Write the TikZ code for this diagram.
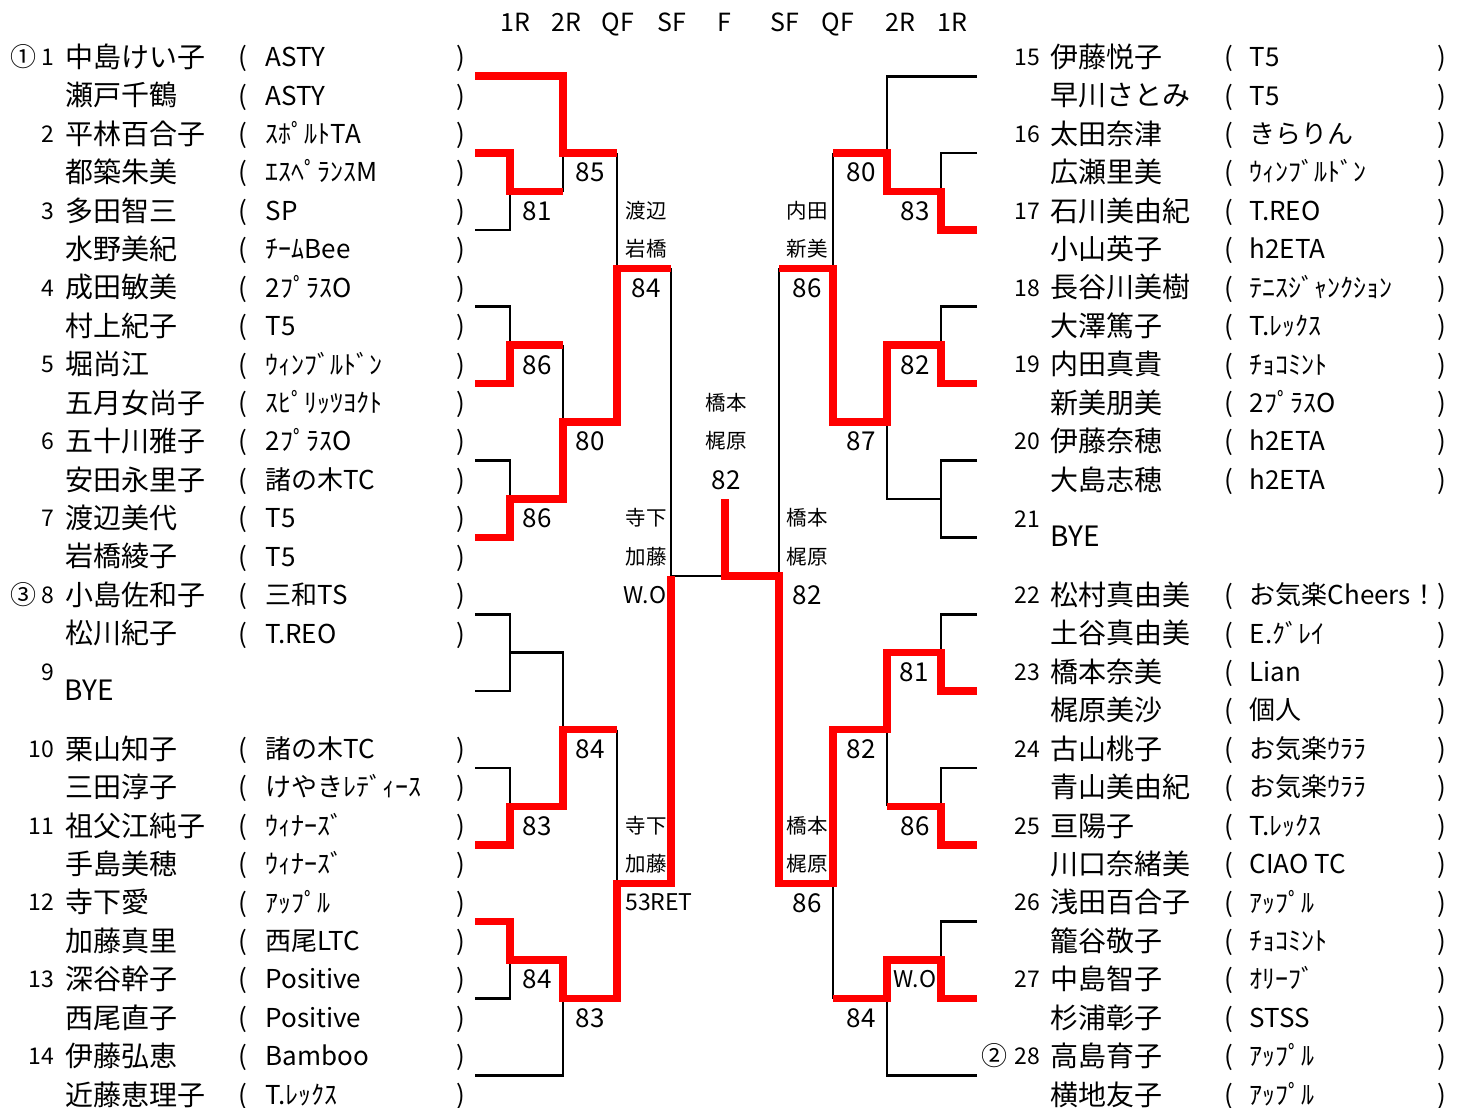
\documentclass[tikz,border=0pt]{standalone}
\usepackage{fontspec}
\setmainfont{Noto Sans CJK JP}
\usepackage{xcolor}

\tikzset{
  bline/.style={line width=2.6pt, black, line join=miter},
  rline/.style={line width=7.5pt, red, line join=miter},
  nametext/.style={font=\fontsize{28}{28}\selectfont, anchor=west, inner sep=0pt, text height=24.4pt, text depth=3.6pt},
  teamtext/.style={font=\fontsize{26}{26}\selectfont, anchor=west, inner sep=0pt, text height=22.6pt, text depth=3.4pt},
  numtext/.style={font=\fontsize{23}{23}\selectfont, anchor=east, inner sep=0pt, text height=20pt, text depth=3pt},
  seedtext/.style={font=\fontsize{26}{26}\selectfont, inner sep=0pt, text height=22.6pt, text depth=3.4pt},
  parentext/.style={font=\fontsize{26}{26}\selectfont, inner sep=0pt, text height=22.6pt, text depth=3.4pt},
  scoretext/.style={font=\fontsize{26}{26}\selectfont, inner sep=0pt, text height=22.6pt, text depth=3.4pt},
  smalltext/.style={font=\fontsize{20.5}{20.5}\selectfont, inner sep=0pt, text height=17.8pt, text depth=2.7pt},
  wotext/.style={font=\fontsize{23}{23}\selectfont, inner sep=0pt, text height=20pt, text depth=3pt},
  headtext/.style={font=\fontsize{25}{25}\selectfont, inner sep=0pt, text height=21.7pt, text depth=3.3pt}
}

\begin{document}
\begin{tikzpicture}[x=1pt, y=-19.215pt]
    \useasboundingbox (0pt,0pt) rectangle (1464pt,-1108pt);
    \begin{scope}[yshift=-57pt]
    % columns of the draw
    \def\xLa{475}\def\xLb{510}\def\xLc{563}\def\xLd{617}\def\xLe{671}
    \def\xM{725}
    \def\xRe{779}\def\xRd{833}\def\xRc{887}\def\xRb{941}\def\xRa{977}

    % Round titles
    \foreach \x/\t [count=\i] in {515/1R, 566/2R, 618/QF, 672/SF, 724/F, 785/SF, 838/QF, 900/2R, 952/1R}
        \node[headtext] (head\i) at (\x,-1.82) {\t};

    % Left half entries
    \foreach \k/\num/\nm/\tm in {
        0/1/中島けい子/ASTY,
        1//瀬戸千鶴/ASTY,
        2/2/平林百合子/ｽﾎﾟﾙﾄTA,
        3//都築朱美/ｴｽﾍﾟﾗﾝｽM,
        4/3/多田智三/SP,
        5//水野美紀/ﾁｰﾑBee,
        6/4/成田敏美/2ﾌﾟﾗｽO,
        7//村上紀子/T5,
        8/5/堀尚江/ｳｨﾝﾌﾞﾙﾄﾞﾝ,
        9//五月女尚子/ｽﾋﾟﾘｯﾂﾖｸﾄ,
        10/6/五十川雅子/2ﾌﾟﾗｽO,
        11//安田永里子/諸の木TC,
        12/7/渡辺美代/T5,
        13//岩橋綾子/T5,
        14/8/小島佐和子/三和TS,
        15//松川紀子/T.REO,
        18/10/栗山知子/諸の木TC,
        19//三田淳子/けやきﾚﾃﾞｨｰｽ,
        20/11/祖父江純子/ｳｨﾅｰｽﾞ,
        21//手島美穂/ｳｨﾅｰｽﾞ,
        22/12/寺下愛/ｱｯﾌﾟﾙ,
        23//加藤真里/西尾LTC,
        24/13/深谷幹子/Positive,
        25//西尾直子/Positive,
        26/14/伊藤弘恵/Bamboo,
        27//近藤恵理子/T.ﾚｯｸｽ}
    {
        \node[numtext] (Lnum\k) at (54,{2*\k}) {\num};
        \node[nametext] (Lname\k) at (65.5,{2*\k}) {\nm};
        \node[parentext] (Lopen\k) at (243,{2*\k}) {(};
        \node[teamtext] (Lteam\k) at (265.5,{2*\k}) {\tm};
        \node[parentext] (Lclose\k) at (461,{2*\k}) {)};
    }
    \node[numtext] (Lnum16) at (54,32) {9};
    \node[nametext] (Lbye) at (64,32.94) {BYE};

    % Right half entries
    \foreach \k/\num/\nm/\tm in {
        0/15/伊藤悦子/T5,
        1//早川さとみ/T5,
        2/16/太田奈津/きらりん,
        3//広瀬里美/ｳｨﾝﾌﾞﾙﾄﾞﾝ,
        4/17/石川美由紀/T.REO,
        5//小山英子/h2ETA,
        6/18/長谷川美樹/ﾃﾆｽｼﾞｬﾝｸｼｮﾝ,
        7//大澤篤子/T.ﾚｯｸｽ,
        8/19/内田真貴/ﾁｮｺﾐﾝﾄ,
        9//新美朋美/2ﾌﾟﾗｽO,
        10/20/伊藤奈穂/h2ETA,
        11//大島志穂/h2ETA,
        14/22/松村真由美/お気楽Cheers！,
        15//土谷真由美/E.ｸﾞﾚｲ,
        16/23/橋本奈美/Lian,
        17//梶原美沙/個人,
        18/24/古山桃子/お気楽ｳﾗﾗ,
        19//青山美由紀/お気楽ｳﾗﾗ,
        20/25/亘陽子/T.ﾚｯｸｽ,
        21//川口奈緒美/CIAO TC,
        22/26/浅田百合子/ｱｯﾌﾟﾙ,
        23//籠谷敬子/ﾁｮｺﾐﾝﾄ,
        24/27/中島智子/ｵﾘｰﾌﾞ,
        25//杉浦彰子/STSS,
        26/28/高島育子/ｱｯﾌﾟﾙ,
        27//横地友子/ｱｯﾌﾟﾙ}
    {
        \node[numtext] (Rnum\k) at (1040,{2*\k}) {\num};
        \node[nametext] (Rname\k) at (1050.5,{2*\k}) {\nm};
        \node[parentext] (Ropen\k) at (1228.5,{2*\k}) {(};
        \node[teamtext] (Rteam\k) at (1249.5,{2*\k}) {\tm};
        \node[parentext] (Rclose\k) at (1442,{2*\k}) {)};
    }
    \node[numtext] (Rnum12) at (1040,24.05) {21};
    \node[nametext] (Rbye) at (1050,24.95) {BYE};

    % Seeds
    \node[seedtext] (seedA) at (23,0) {①};
    \node[seedtext] (seedC) at (23,28) {③};
    \node[seedtext] (seedB) at (994,52) {②};

    % Lines of the draw (losers)
    \draw[bline] (\xLa,9) -| (\xLb,7);
    \draw[bline] (\xLc,5) -- (\xLc,7);
    \draw[bline] (\xLd,5) -- (\xLd,11);
    \draw[bline] (\xLa,13) -| (\xLb,15);
    \draw[bline] (\xLc,15) -- (\xLc,19);
    \draw[bline] (\xLa,21) -| (\xLb,23);
    \draw[bline] (\xLe,11) |- (\xM,27);
    \draw[bline] (\xLa,29) -| (\xLb,33) -- (\xLa,33);
    \draw[bline] (\xLb,31) -| (\xLc,35);
    \draw[bline] (\xLa,37) -| (\xLb,39);
    \draw[bline] (\xLd,35) -- (\xLd,43);
    \draw[bline] (\xLa,49) -| (\xLb,47);
    \draw[bline] (\xLa,53) -| (\xLc,49);

    \draw[bline] (\xRa,1) -| (\xRc,5);
    \draw[bline] (\xRa,5) -| (\xRb,7);
    \draw[bline] (\xRd,5) -- (\xRd,11);
    \draw[bline] (\xRa,13) -| (\xRb,15);
    \draw[bline] (\xRa,21) -| (\xRb,25) -- (\xRa,25);
    \draw[bline] (\xRb,23) -| (\xRc,19);
    \draw[bline] (\xRe,11) -- (\xRe,27);
    \draw[bline] (\xRa,29) -| (\xRb,31);
    \draw[bline] (\xRa,37) -| (\xRb,39);
    \draw[bline] (\xRc,35) -- (\xRc,39);
    \draw[bline] (\xRd,43) -- (\xRd,49);
    \draw[bline] (\xRa,45) -| (\xRb,47);
    \draw[bline] (\xRa,53) -| (\xRc,49);

    % Winners' paths
    \draw[rline] (\xLa,1) -| (\xLc,5) -- (\xLd,5);
    \draw[rline] (\xLa,5) -| (\xLb,7) -- (\xLc,7);
    \draw[rline] (\xLa,17) -| (\xLb,15) -- (\xLc,15);
    \draw[rline] (\xLa,25) -| (\xLb,23) -| (\xLc,19) -| (\xLd,11) -- (\xLe,11);
    \draw[rline] (\xLa,41) -| (\xLb,39) -| (\xLc,35) -- (\xLd,35);
    \draw[rline] (\xLa,45) -| (\xLb,47) -| (\xLc,49) -| (\xLd,43) -| (\xLe,27);

    \draw[rline] (\xRa,9) -| (\xRb,7) -| (\xRc,5) -- (\xRd,5);
    \draw[rline] (\xRa,17) -| (\xRb,15) -| (\xRc,19) -| (\xRd,11) -- (\xRe,11);
    \draw[rline] (\xRa,33) -| (\xRb,31) -| (\xRc,35) -| (\xRd,43) -| (\xRe,27) -| (\xM,23);
    \draw[rline] (\xRa,41) -| (\xRb,39) -- (\xRc,39);
    \draw[rline] (\xRa,49) -| (\xRb,47) -| (\xRc,49) -- (\xRd,49);

    % Scores
    \foreach \x/\j/\t [count=\i] in {537/8/81, 590/6/85, 537/16/86, 537/24/86, 590/20/80, 646/12/84,
        590/36/84, 537/40/83, 537/48/84, 590/50/83, 726/22/82,
        861/6/80, 915/8/83, 807/12/86, 915/16/82, 861/20/87, 807/28/82,
        914/32/81, 861/36/82, 915/40/86, 807/44/86, 861/50/84}
        \node[scoretext] (score\i) at (\x,\j) {\t};
    \node[wotext] (woL) at (645,28) {W.O};
    \node[wotext] (woR) at (915,48) {W.O};
    \node[wotext] (retL) at (659,44) {53RET};

    % Winners' names
    \foreach \x/\j/\t [count=\i] in {646/8/渡辺, 646/10/岩橋, 646/24/寺下, 646/26/加藤, 646/40/寺下, 646/42/加藤,
        726/18/橋本, 726/20/梶原, 807/8/内田, 807/10/新美, 807/24/橋本, 807/26/梶原, 807/40/橋本, 807/42/梶原}
        \node[smalltext] (win\i) at (\x,\j) {\t};
    \end{scope}
\end{tikzpicture}
\end{document}
